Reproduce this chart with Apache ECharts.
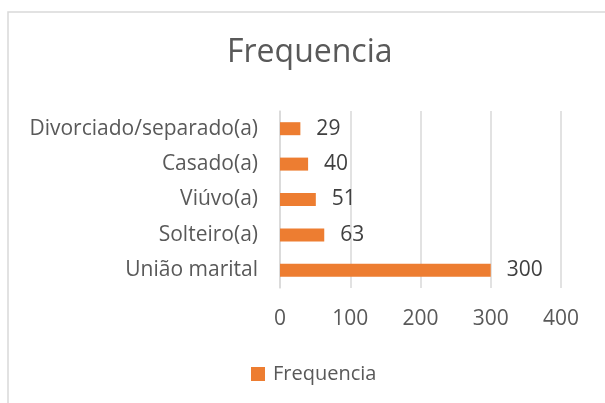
<!DOCTYPE html>
<html>
<head>
<meta charset="utf-8">
<script src="https://cdn.jsdelivr.net/npm/echarts@6/dist/echarts.min.js"></script>
<style>
  html, body { margin: 0; padding: 0; background: #fff; }
  #chart { width: 605px; height: 403px; }
</style>
</head>
<body>
<div id="chart"></div>
<script>
// categories bottom -> top, as ECharts draws category y axes
const categorias = ['União marital', 'Solteiro(a)', 'Viúvo(a)', 'Casado(a)', 'Divorciado/separado(a)'];
const frequencia = [300, 63, 51, 40, 29];
const serieNome = 'Frequencia';

const fonte = '"Open Sans", Lato, sans-serif';
const chart = echarts.init(document.getElementById('chart'));

chart.setOption({
  animation: false,
  backgroundColor: '#fff',
  graphic: [{
    type: 'rect',
    shape: { x: 8, y: 12, width: 620, height: 420 },
    style: { fill: 'none', stroke: '#d9d9d9', lineWidth: 1.5 },
    silent: true
  }],
  title: {
    text: 'Frequencia',
    left: 227,
    top: 37,
    padding: 0,
    textStyle: { fontFamily: fonte, fontSize: 32, fontWeight: 'normal', color: '#595959' }
  },
  legend: {
    bottom: 14,
    left: 246,
    itemWidth: 14,
    itemHeight: 14,
    itemGap: 5,
    icon: 'rect',
    textStyle: { fontFamily: fonte, fontSize: 20, color: '#595959', padding: [0, 0, 0, 3] },
    data: [serieNome]
  },
  grid: { left: 280, top: 111, width: 281, height: 177, containLabel: false },
  xAxis: {
    type: 'value',
    min: 0, max: 400, interval: 100,
    axisLine: { show: false },
    axisTick: { show: false },
    splitLine: { lineStyle: { color: '#d9d9d9', width: 1.5 } },
    axisLabel: { fontFamily: fonte, fontSize: 21, color: '#595959', margin: 21 }
  },
  yAxis: {
    type: 'category',
    data: categorias,
    axisLine: { show: true, lineStyle: { color: '#d9d9d9', width: 1.5 } },
    axisTick: { show: false },
    axisLabel: { fontFamily: fonte, fontSize: 21, color: '#595959', margin: 22 }
  },
  series: [{
    name: serieNome,
    type: 'bar',
    data: frequencia,
    barWidth: 13,
    itemStyle: { color: '#ed7d31' },
    label: {
      show: true,
      position: 'right',
      distance: 16,
      fontFamily: fonte,
      fontSize: 21,
      color: '#404040'
    }
  }]
});
</script>
</body>
</html>
